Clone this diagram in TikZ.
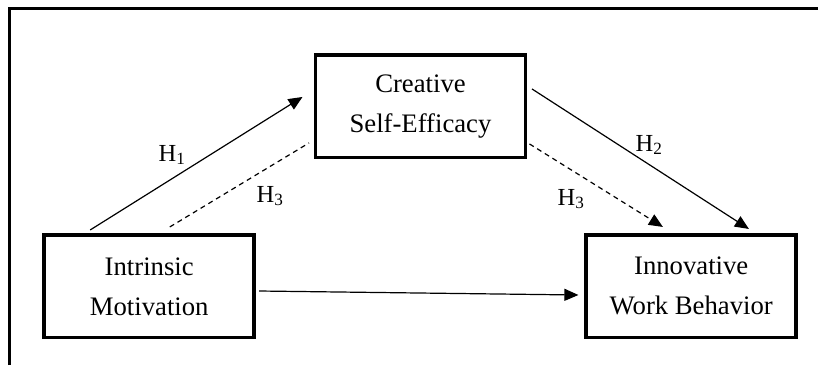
\documentclass[tikz,border=0pt]{standalone}
\usepackage{fontspec}
\setmainfont{Liberation Serif}
\usetikzlibrary{positioning, arrows.meta, calc}

\begin{document}
\begin{tikzpicture}[x=1pt, y=-1pt,
		caja/.style={draw, line width=3.5pt, minimum width=210pt, minimum height=102.7pt,
			inner sep=0pt, outer sep=0pt, align=center, font=\fontsize{26.7}{40}\selectfont},
		hip/.style={line width=1.2pt, -{Triangle[length=14pt, width=12pt]}},
		medio/.style={line width=1.2pt, dash pattern=on 5pt off 4pt},
		etiq/.style={font=\fontsize{24.5}{28}\selectfont, inner sep=0pt}]
		
		% --- 1. MARCO ---
		\useasboundingbox (0,0) rectangle (818,365);
		\draw[line width=3pt] (9.5,365) -- (9.5,8) -- (818,8);
		
		% --- 2. CAJAS ---
		\node[caja] (cse) at (420.5,106.3) {Creative\\Self-Efficacy};
		\node[caja] (im) at (149.2,286.3) {Intrinsic\\Motivation};
		\node[caja] (iwb) at (691.2,286.3) {Innovative\\Work Behavior};
		
		% --- 3. FLECHAS ---
		\draw[hip] ([shift={(46,-5)}]im.north west) -- ([shift={(-13,42)}]cse.north west);
		\draw[medio] ([shift={(125.6,-8)}]im.north west) -- ([shift={(-6.5,-14.7)}]cse.south west);
		\draw[hip] ([shift={(6.5,34)}]cse.north east) -- ([shift={(162.7,-6)}]iwb.north west);
		\draw[medio, -{Triangle[length=14pt, width=12pt]}] ([shift={(4,-13.7)}]cse.south east) -- ([shift={(76.7,-8)}]iwb.north west);
		\draw[hip] ([shift={(5,4.7)}]im.east) -- ([shift={(-7.8,8.7)}]iwb.west);
		
		% --- 4. HIPOTESIS ---
		\node[etiq] (h1) at (172,155) {H\textsubscript{1}};
		\node[etiq] (h3a) at (270,196) {H\textsubscript{3}};
		\node[etiq] (h2) at (649,145) {H\textsubscript{2}};
		\node[etiq] (h3b) at (571,199) {H\textsubscript{3}};
		
	\end{tikzpicture}
\end{document}
